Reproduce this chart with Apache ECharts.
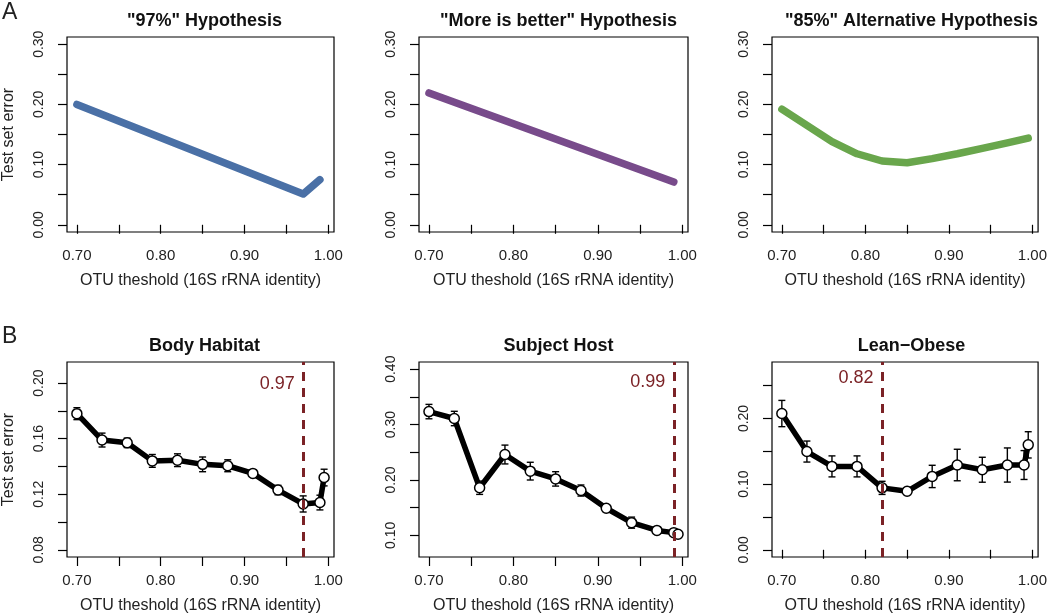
<!DOCTYPE html>
<html>
<head>
<meta charset="utf-8">
<title>OTU threshold hypotheses</title>
<script src="https://cdn.jsdelivr.net/npm/echarts@6/dist/echarts.min.js"></script>
<style>
    html, body { margin: 0; padding: 0; background: #fff; }
    #chart { width: 1050px; height: 615px; }
</style>
</head>
<body>
<div id="chart"></div>
<script>
    // ---- data ----
    var otuX = [0.70, 0.73, 0.76, 0.79, 0.82, 0.85, 0.88, 0.91, 0.94, 0.97, 0.99, 0.995];

    // row A: hypothetical curves
    var hyp97X = [0.70, 0.97, 0.99];
    var hyp97Y = [0.200, 0.051, 0.075];
    var moreBetterX = [0.70, 0.99];
    var moreBetterY = [0.219, 0.071];
    var alt85X = [0.70, 0.73, 0.76, 0.79, 0.82, 0.85, 0.88, 0.91, 0.94, 0.97, 0.995];
    var alt85Y = [0.192, 0.165, 0.138, 0.118, 0.106, 0.103, 0.110, 0.118, 0.127, 0.136, 0.144];

    // row B: observed test set error with error bars
    var bodyHabitat = [0.178, 0.159, 0.157, 0.144, 0.1445, 0.1415, 0.1405, 0.135, 0.123, 0.113, 0.114, 0.132];
    var bodyHabitatErr = [0.0043, 0.005, 0.0034, 0.0046, 0.0046, 0.0053, 0.0043, 0.002, 0.0034, 0.0058, 0.0053, 0.006];
    var subjectHost = [0.3235, 0.311, 0.186, 0.246, 0.216, 0.202, 0.181, 0.149, 0.123, 0.109, 0.105, 0.102];
    var subjectHostErr = [0.013, 0.013, 0.012, 0.017, 0.016, 0.013, 0.010, 0.006, 0.010, 0.004, 0.002, 0.002];
    var leanObese = [0.2075, 0.1496, 0.127, 0.127, 0.0943, 0.0891, 0.1117, 0.1291, 0.1219, 0.1291, 0.1291, 0.1598];
    var leanObeseErr = [0.020, 0.016, 0.016, 0.016, 0.010, 0.004, 0.017, 0.024, 0.019, 0.026, 0.022, 0.020];
    var bestThreshold = [0.97, 0.99, 0.82];

    // tick positions and labelled ticks
    var xTicks = [0.70, 0.75, 0.80, 0.85, 0.90, 0.95, 1.00];
    var xTickLabels = [0.70, 0.80, 0.90, 1.00];
    var yTicksTop = [0, 0.05, 0.10, 0.15, 0.20, 0.25, 0.30];
    var yLabelsTop = [0, 0.10, 0.20, 0.30];
    var yTicksBody = [0.08, 0.10, 0.12, 0.14, 0.16, 0.18, 0.20];
    var yLabelsBody = [0.08, 0.12, 0.16, 0.20];
    var yTicksHost = [0.10, 0.15, 0.20, 0.25, 0.30, 0.35, 0.40];
    var yLabelsHost = [0.10, 0.20, 0.30, 0.40];
    var yTicksLean = [0, 0.05, 0.10, 0.15, 0.20, 0.25];
    var yLabelsLean = [0, 0.10, 0.20];

    var FONT = '"Liberation Sans", Arial, Helvetica, sans-serif';
    var RED = '#7b2226';
    var colLefts = [65, 419, 772];
    var rowTops = [37, 362];
    var gridW = 269, gridH = 195;

    var panels = [
        { title: '"97%" Hypothesis', x: hyp97X, y: hyp97Y, color: '#4a70a6', yMin: -0.012, yMax: 0.312, yTicks: yTicksTop, yLabels: yLabelsTop },
        { title: '"More is better" Hypothesis', x: moreBetterX, y: moreBetterY, color: '#784b8b', yMin: -0.012, yMax: 0.312, yTicks: yTicksTop, yLabels: yLabelsTop },
        { title: '"85%" Alternative Hypothesis', x: alt85X, y: alt85Y, color: '#69a64c', yMin: -0.012, yMax: 0.312, yTicks: yTicksTop, yLabels: yLabelsTop },
        { title: 'Body Habitat', x: otuX, y: bodyHabitat, err: bodyHabitatErr, best: bestThreshold[0], labelY: 0.199, yMin: 0.0748, yMax: 0.2152, yTicks: yTicksBody, yLabels: yLabelsBody },
        { title: 'Subject Host', x: otuX, y: subjectHost, err: subjectHostErr, best: bestThreshold[1], labelY: 0.377, yMin: 0.061, yMax: 0.413, yTicks: yTicksHost, yLabels: yLabelsHost },
        { title: 'Lean\u2212Obese', x: otuX, y: leanObese, err: leanObeseErr, best: bestThreshold[2], labelY: 0.261, yMin: -0.011, yMax: 0.286, yTicks: yTicksLean, yLabels: yLabelsLean }
    ];

    function fmt(v) { return Number(v).toFixed(2); }

    function renderErrorBar(params, api) {
        var x = api.value(0);
        var top = api.coord([x, api.value(2)]);
        var bot = api.coord([x, api.value(1)]);
        var w = 3.5;
        var style = { stroke: '#000', lineWidth: 1.4 };
        return {
            type: 'group',
            children: [
                { type: 'line', shape: { x1: top[0], y1: top[1], x2: bot[0], y2: bot[1] }, style: style },
                { type: 'line', shape: { x1: top[0] - w, y1: top[1], x2: top[0] + w, y2: top[1] }, style: style },
                { type: 'line', shape: { x1: bot[0] - w, y1: bot[1], x2: bot[0] + w, y2: bot[1] }, style: style }
            ]
        };
    }

    var grids = [], xAxes = [], yAxes = [], titles = [], series = [];

    panels.forEach(function (p, i) {
        var col = i % 3, row = Math.floor(i / 3);
        grids.push({
            left: colLefts[col], top: rowTops[row], width: gridW, height: gridH,
            show: true, borderColor: '#000', borderWidth: 1.2, backgroundColor: 'transparent'
        });
        titles.push({
            text: p.title, left: colLefts[col] + gridW / 2, top: rowTops[row] - 30, textAlign: 'center',
            textStyle: { fontFamily: FONT, fontSize: 18, fontWeight: 'bold', color: '#111' }
        });
        xAxes.push({
            type: 'value', gridIndex: i, min: 0.6882, max: 1.0068,
            name: 'OTU theshold (16S rRNA identity)', nameLocation: 'middle', nameGap: 41,
            nameTextStyle: { fontFamily: FONT, fontSize: 16, color: '#222' },
            axisLine: { show: false }, splitLine: { show: false },
            axisTick: { show: true, inside: false, length: 9, customValues: xTicks, lineStyle: { color: '#000', width: 1.2 } },
            axisLabel: { customValues: xTickLabels, formatter: fmt, margin: 16, fontFamily: FONT, fontSize: 15, color: '#222' }
        });
        yAxes.push({
            type: 'value', gridIndex: i, min: p.yMin, max: p.yMax,
            name: col === 0 ? 'Test set error' : '', nameLocation: 'middle', nameGap: 50, nameRotate: 90,
            nameTextStyle: { fontFamily: FONT, fontSize: 16, color: '#222' },
            axisLine: { show: false }, splitLine: { show: false },
            axisTick: { show: true, inside: false, length: 9, customValues: p.yTicks, lineStyle: { color: '#000', width: 1.2 } },
            axisLabel: { customValues: p.yLabels, formatter: fmt, rotate: 90, margin: 21, fontFamily: FONT, fontSize: 14, color: '#222' }
        });

        var pts = p.x.map(function (v, k) { return [v, p.y[k]]; });

        if (!p.err) {
            // hypothetical curve
            series.push({
                type: 'line', xAxisIndex: i, yAxisIndex: i, data: pts, symbol: 'none',
                lineStyle: { color: p.color, width: 7.5, cap: 'round', join: 'round' },
                silent: true, animation: false
            });
            return;
        }

        // error bars below the line
        series.push({
            type: 'custom', xAxisIndex: i, yAxisIndex: i, renderItem: renderErrorBar,
            data: p.x.map(function (v, k) { return [v, p.y[k] - p.err[k], p.y[k] + p.err[k]]; }),
            encode: { x: 0, y: [1, 2] }, z: 2, silent: true, animation: false
        });
        series.push({
            type: 'line', xAxisIndex: i, yAxisIndex: i, data: pts, z: 3,
            symbol: 'circle', symbolSize: 10, showAllSymbol: true,
            itemStyle: { color: '#fff', borderColor: '#000', borderWidth: 1.5 },
            lineStyle: { color: '#000', width: 5.5, join: 'round' },
            markLine: {
                silent: true, symbol: 'none', label: { show: false },
                lineStyle: { color: RED, width: 3, type: [9, 7] },
                data: [{ xAxis: p.best }]
            },
            markPoint: {
                silent: true, symbol: 'rect', symbolSize: 1,
                itemStyle: { color: 'rgba(0,0,0,0)' },
                label: { show: true, position: 'left', distance: 8, formatter: fmt(p.best), color: RED, fontFamily: FONT, fontSize: 18 },
                data: [{ coord: [p.best, p.labelY] }]
            },
            animation: false
        });
    });

    var chart = echarts.init(document.getElementById('chart'));
    chart.setOption({
        backgroundColor: '#fff',
        animation: false,
        title: titles,
        grid: grids,
        xAxis: xAxes,
        yAxis: yAxes,
        series: series,
        graphic: [
            { type: 'text', left: 2, top: 1, style: { text: 'A', font: '23px ' + FONT, fill: '#222' } },
            { type: 'text', left: 2, top: 325, style: { text: 'B', font: '23px ' + FONT, fill: '#222' } }
        ]
    });
</script>
</body>
</html>
